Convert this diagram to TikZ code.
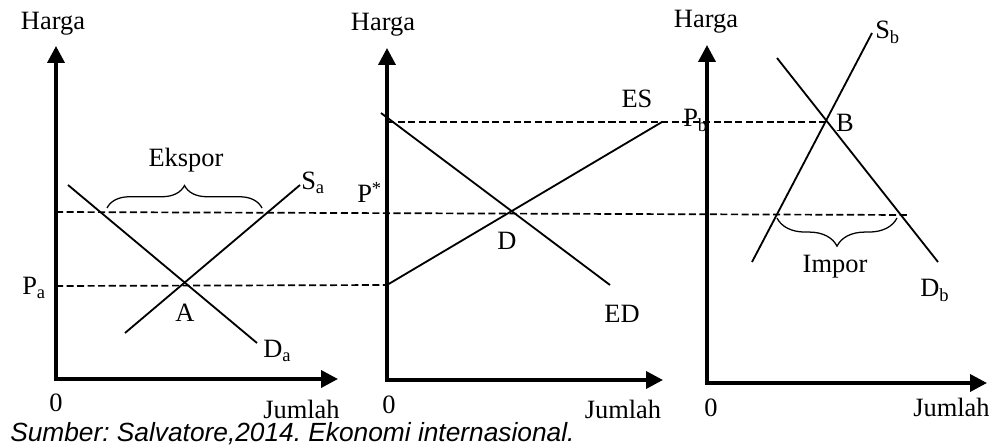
\documentclass[tikz,border=0pt]{standalone}
\usepackage{fontspec}
\setmainfont{Liberation Serif}
\newfontfamily\capfont{Liberation Sans}
\usetikzlibrary{arrows.meta,decorations.pathreplacing}

\begin{document}
\begin{tikzpicture}[x=0.025cm, y=-0.025cm, font=\fontsize{18.8}{22}\selectfont]
    \tikzstyle{axis}=[line width=2.6pt, line cap=rect, -{Triangle[length=12pt, width=12pt]}]
    \tikzstyle{curve}=[line width=1.3pt]
    \tikzstyle{level}=[line width=1.2pt, dash pattern=on 5pt off 2.5pt]
    \tikzstyle{lbl}=[inner sep=0pt, anchor=base]
    \tikzstyle{lblw}=[lbl, anchor=base west]
    \tikzstyle{bracket}=[line width=0.9pt, decorate, decoration={brace, amplitude=#1}]

    \useasboundingbox (0,0) rectangle (989,445);

    % negara A
    \coordinate (oa) at (56,379);
    \coordinate (ya) at (56,46);
    \coordinate (xa) at (338,379);
    \coordinate (pa) at (56,286);
    \coordinate (pw1) at (56,212);
    \coordinate (da1) at (68,185);
    \coordinate (da2) at (257,343);
    \coordinate (sa1) at (125,333);
    \coordinate (sa2) at (300,185);
    \coordinate (ek1) at (107,208);
    \coordinate (ek2) at (262,208);

    % pasar dunia
    \coordinate (om) at (387,380);
    \coordinate (ym) at (387,48);
    \coordinate (xm) at (663,380);
    \coordinate (pam) at (387,285);
    \coordinate (pbm) at (387,122);
    \coordinate (es2) at (662,122);
    \coordinate (ed1) at (381,113);
    \coordinate (ed2) at (610,285);

    % negara B
    \coordinate (ob) at (707,383);
    \coordinate (yb) at (707,45);
    \coordinate (xb) at (987,383);
    \coordinate (pw2) at (907,215);
    \coordinate (B) at (826,122);
    \coordinate (sb1) at (752,262);
    \coordinate (sb2) at (872,33);
    \coordinate (db1) at (777,58);
    \coordinate (db2) at (938,262);
    \coordinate (im1) at (897,218);
    \coordinate (im2) at (777,218);

    \draw[axis] (oa) -- (ya);
    \draw[axis] (oa) -- (xa);
    \draw[axis] (om) -- (ym);
    \draw[axis] (om) -- (xm);
    \draw[axis] (ob) -- (yb);
    \draw[axis] (ob) -- (xb);

    \draw[level] (pa) -- (pam);
    \draw[level] (pw1) -- (pw2);
    \draw[level] (pbm) -- (B);

    \draw[curve] (da1) -- (da2);
    \draw[curve] (sa1) -- (sa2);
    \draw[curve] (pam) -- (es2);
    \draw[curve] (ed1) -- (ed2);
    \draw[curve] (sb1) -- (sb2);
    \draw[curve] (db1) -- (db2);

    \draw[bracket=16pt] (ek1) -- (ek2);
    \draw[bracket=20pt] (im1) -- (im2);

    \node[lbl] (harga-a) at (53,30) {Harga};
    \node[lbl] (ekspor) at (186,167) {Ekspor};
    \node[lblw] (s-a) at (301,190) {S\textsubscript{a}};
    \node[lblw] (p-a) at (22,295) {P\textsubscript{a}};
    \node[lbl] (A) at (185,322) {A};
    \node[lblw] (d-a) at (263,358) {D\textsubscript{a}};
    \node[lbl] (nol-a) at (56,412) {0};
    \node[lblw] (jumlah-a) at (263,419) {Jumlah};

    \node[lbl] (harga-m) at (383,31) {Harga};
    \node[lbl] (es) at (637,108) {ES};
    \node[lblw] (p-star) at (357,203) {P\textsuperscript{*}};
    \node[lbl] (D) at (507,250) {D};
    \node[lbl] (ed) at (622,323) {ED};
    \node[lbl] (nol-m) at (389,414) {0};
    \node[lbl] (jumlah-m) at (623,419) {Jumlah};

    \node[lbl] (harga-b) at (706,28) {Harga};
    \node[lblw] (s-b) at (875,39) {S\textsubscript{b}};
    \node[lblw] (p-b) at (683,127) {P\textsubscript{b}};
    \node[lbl] (B-lbl) at (845,132) {B};
    \node[lbl] (impor) at (835,273) {Impor};
    \node[lblw] (d-b) at (920,297) {D\textsubscript{b}};
    \node[lbl] (nol-b) at (711,417) {0};
    \node[lblw] (jumlah-b) at (913,417) {Jumlah};

    \node[lblw, font=\capfont\itshape\fontsize{18.7}{20}\selectfont\frenchspacing] (sumber) at (10,442) {Sumber: Salvatore,2014. Ekonomi internasional.};
\end{tikzpicture}
\end{document}
